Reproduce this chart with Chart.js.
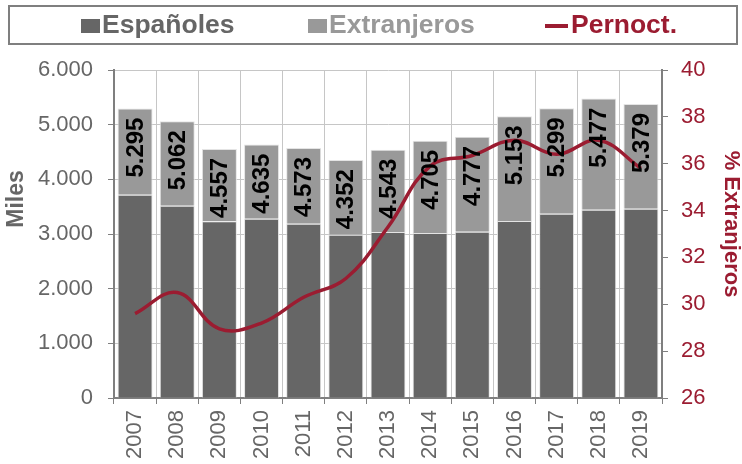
<!DOCTYPE html>
<html lang="es">
<head>
<meta charset="UTF-8">
<title>Pernoctaciones: españoles y extranjeros</title>
<script src="https://cdn.jsdelivr.net/npm/chart.js"></script>
<style>
    body {
        margin: 0;
        background: #fff;
        font-family: "Liberation Sans", Arial, sans-serif;
    }

    #wrap {
        position: relative;
        width: 742px;
        height: 464px;
    }

    #legend {
        position: absolute;
        left: 8px;
        top: 5px;
        width: 726px;
        height: 36px;
        border: 2px solid #7f7f7f;
        font-weight: bold;
        font-size: 26.5px;
    }

    #legend span {
        position: absolute;
        top: 2px;
        white-space: nowrap;
    }

    .box {
        display: inline-block;
        width: 19px;
        height: 14px;
        margin-right: 2px;
    }

    .dash {
        display: inline-block;
        width: 23px;
        height: 4px;
        margin-right: 3px;
        vertical-align: middle;
        background: #9b1c31;
    }
</style>
</head>
<body>
<div id="wrap">
    <canvas id="myChart" width="742" height="464"></canvas>
    <div id="legend">
        <span style="left:71px;color:#666666"><i class="box" style="background:#666666"></i>Españoles</span>
        <span style="left:298px;color:#999999"><i class="box" style="background:#999999"></i>Extranjeros</span>
        <span style="left:535px;color:#9b1c31"><i class="dash"></i>Pernoct.</span>
    </div>
</div>
<script>
// values (miles of pernoctaciones and % extranjeros)
const years = ['2007', '2008', '2009', '2010', '2011', '2012', '2013', '2014', '2015', '2016', '2017', '2018', '2019'];
const espanoles = [3719, 3518, 3232, 3280, 3189, 2987, 3036, 3018, 3042, 3238, 3371, 3445, 3463];
const extranjeros = [1576, 1544, 1325, 1355, 1384, 1365, 1507, 1687, 1735, 1915, 1928, 2032, 1916];
const pctExtranjeros = [29.6, 30.5, 28.95, 29.2, 30.3, 31.1, 33.3, 35.9, 36.35, 37.0, 36.4, 37.0, 35.8];
const leftTicks = [0, 1000, 2000, 3000, 4000, 5000, 6000];
const rightTicks = [26, 28, 30, 32, 34, 36, 38, 40];

const FONT = '"Liberation Sans", Arial, sans-serif';
const RED = '#9b1c31';
const AXIS = '#7f7f7f';
const GRID = '#c6c6c6';

function fmt(v) {
    return v.toLocaleString('de-DE');
}

// total value on top of every stacked bar, rotated
const totalLabels = {
    id: 'totalLabels',
    afterDatasetsDraw(chart) {
        const ctx = chart.ctx;
        const meta = chart.getDatasetMeta(1);
        ctx.save();
        ctx.font = 'bold 24px ' + FONT;
        ctx.fillStyle = '#000';
        ctx.textAlign = 'right';
        ctx.textBaseline = 'middle';
        meta.data.forEach((bar, i) => {
            ctx.save();
            ctx.translate(bar.x + 1, bar.y + 9);
            ctx.rotate(-Math.PI / 2);
            ctx.fillText(fmt(espanoles[i] + extranjeros[i]), 0, 0);
            ctx.restore();
        });
        ctx.restore();
    }
};

// axis titles sit off-centre in the original, so draw them by hand
const axisTitles = {
    id: 'axisTitles',
    afterDraw(chart) {
        const ctx = chart.ctx;
        ctx.save();
        ctx.font = 'bold 23px ' + FONT;
        ctx.textAlign = 'center';
        ctx.textBaseline = 'middle';

        ctx.fillStyle = '#666666';
        ctx.translate(17, 199);
        ctx.rotate(-Math.PI / 2);
        ctx.fillText('Miles', 0, 0);
        ctx.restore();

        ctx.save();
        ctx.font = 'bold 22px ' + FONT;
        ctx.textAlign = 'center';
        ctx.textBaseline = 'middle';
        ctx.fillStyle = RED;
        ctx.translate(731, 224);
        ctx.rotate(Math.PI / 2);
        ctx.fillText('% Extranjeros', 0, 0);
        ctx.restore();
    }
};

const ctx = document.getElementById('myChart').getContext('2d');
const chart = new Chart(ctx, {
    data: {
        labels: years,
        datasets: [{
            type: 'bar',
            label: 'Españoles',
            data: espanoles,
            backgroundColor: '#666666',
            borderColor: '#e4e4e4',
            borderWidth: 1,
            yAxisID: 'y',
            order: 1
        },
        {
            type: 'bar',
            label: 'Extranjeros',
            data: extranjeros,
            backgroundColor: '#999999',
            borderColor: '#e4e4e4',
            borderWidth: 1,
            yAxisID: 'y',
            order: 1
        },
        {
            type: 'line',
            label: 'Pernoct.',
            data: pctExtranjeros,
            borderColor: RED,
            borderWidth: 3.5,
            pointRadius: 0,
            tension: 0.4,
            fill: false,
            yAxisID: 'y1',
            order: 0
        }]
    },
    options: {
        responsive: false,
        animation: false,
        layout: {
            padding: { top: 70, left: 0, right: 0, bottom: 0 }
        },
        datasets: {
            bar: {
                barPercentage: 0.83,
                categoryPercentage: 1
            }
        },
        plugins: {
            legend: { display: false },
            tooltip: { enabled: false }
        },
        scales: {
            x: {
                stacked: true,
                afterFit(scale) { scale.height = 66; },
                grid: {
                    color: GRID,
                    tickColor: AXIS,
                    tickLength: 6,
                    offset: true
                },
                border: { color: AXIS, width: 2 },
                ticks: {
                    font: { family: FONT, size: 22 },
                    color: '#666666',
                    minRotation: 90,
                    maxRotation: 90,
                    autoSkip: false,
                    padding: 6
                }
            },
            y: {
                stacked: true,
                position: 'left',
                min: leftTicks[0],
                max: leftTicks[leftTicks.length - 1],
                afterFit(scale) { scale.width = 114; },
                afterBuildTicks(scale) { scale.ticks = leftTicks.map(v => ({ value: v })); },
                grid: {
                    color: GRID,
                    tickColor: AXIS,
                    tickLength: 6
                },
                border: { color: AXIS, width: 2 },
                ticks: {
                    font: { family: FONT, size: 22 },
                    color: '#666666',
                    padding: 15,
                    callback: v => fmt(v)
                }
            },
            y1: {
                position: 'right',
                min: rightTicks[0],
                max: rightTicks[rightTicks.length - 1],
                afterFit(scale) { scale.width = 80; },
                afterBuildTicks(scale) { scale.ticks = rightTicks.map(v => ({ value: v })); },
                grid: {
                    drawOnChartArea: false,
                    tickColor: AXIS,
                    tickLength: 6
                },
                border: { color: AXIS, width: 2 },
                ticks: {
                    font: { family: FONT, size: 22 },
                    color: RED,
                    padding: 13
                }
            }
        }
    },
    plugins: [totalLabels, axisTitles]
});
</script>
</body>
</html>
